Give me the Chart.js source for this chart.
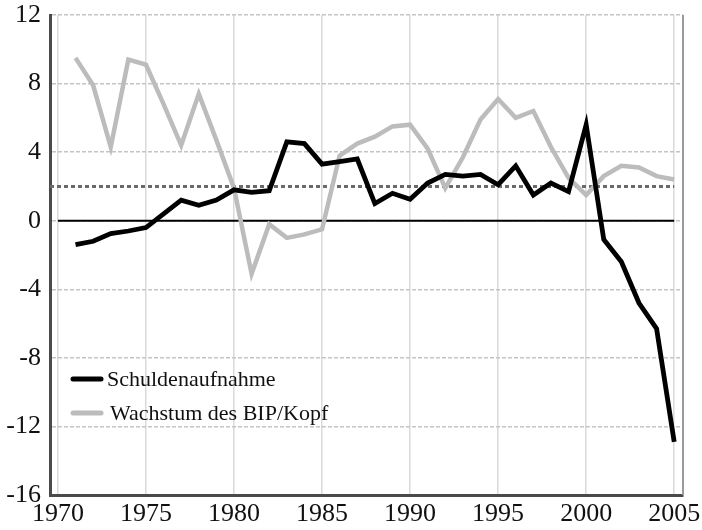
<!DOCTYPE html>
<html>
<head>
<meta charset="utf-8">
<script src="https://cdn.jsdelivr.net/npm/chart.js@4.4.1/dist/chart.umd.min.js"></script>
<style>
  html, body { margin: 0; padding: 0; background: #fff; }
  #wrap { width: 702px; height: 530px; }
</style>
</head>
<body>
<div id="wrap"><canvas id="chart" width="702" height="530"></canvas></div>
<script>
// data
const years = [1971, 1972, 1973, 1974, 1975, 1976, 1977, 1978, 1979, 1980,
    1981, 1982, 1983, 1984, 1985, 1986, 1987, 1988, 1989, 1990,
    1991, 1992, 1993, 1994, 1995, 1996, 1997, 1998, 1999, 2000,
    2001, 2002, 2003, 2004, 2005];
const schulden = [-1.4, -1.2, -0.75, -0.6, -0.4, 0.4, 1.2, 0.9, 1.2, 1.8,
    1.65, 1.75, 4.6, 4.5, 3.3, 3.45, 3.6, 1.0, 1.6, 1.25,
    2.2, 2.7, 2.6, 2.7, 2.1, 3.2, 1.5, 2.2, 1.7, 5.6,
    -1.1, -2.4, -4.8, -6.3, -12.9];
const wachstum = [9.5, 7.9, 4.3, 9.4, 9.1, 6.8, 4.4, 7.4, 4.7, 1.9,
    -3.1, -0.2, -1.0, -0.8, -0.5, 3.8, 4.5, 4.9, 5.5, 5.6,
    4.2, 1.9, 3.7, 5.9, 7.1, 6.0, 6.4, 4.3, 2.5, 1.5,
    2.6, 3.2, 3.1, 2.6, 2.4];
const seriesNames = ['Schuldenaufnahme', 'Wachstum des BIP/Kopf'];
const xTicks = [1970, 1975, 1980, 1985, 1990, 1995, 2000, 2005];
const yTicks = [-16, -12, -8, -4, 0, 4, 8, 12];
const refLevel = 2;          // dotted reference line
const refSpan = [1969.55, 2005];
const zeroSpan = [1970, 2005];

const toPts = (xs, ys) => xs.map((x, i) => ({ x: x, y: ys[i] }));
const flat = (span, v) => span.map(x => ({ x: x, y: v }));

const FONT = '"Liberation Serif", "Times New Roman", serif';

// legend drawn inside the plot, bottom left
const innerLegend = {
    id: 'innerLegend',
    afterDatasetsDraw(chart) {
        const ctx = chart.ctx;
        const a = chart.chartArea;
        const items = chart.data.datasets.filter(d => d.inLegend);
        ctx.save();
        ctx.font = '22px ' + FONT;
        ctx.textBaseline = 'middle';
        items.forEach((d, i) => {
            const y = a.bottom - 116 + i * 34;
            ctx.strokeStyle = d.borderColor;
            ctx.lineWidth = 5;
            ctx.lineCap = 'round';
            ctx.beginPath();
            ctx.moveTo(a.left + 23, y);
            ctx.lineTo(a.left + 51, y);
            ctx.stroke();
            ctx.fillStyle = '#111';
            ctx.fillText(d.label, a.left + 57 + i * 3, y + 1);
        });
        ctx.restore();
    },
    beforeDatasetsDraw(chart) {
        // thin right frame line
        const ctx = chart.ctx;
        const a = chart.chartArea;
        ctx.save();
        ctx.strokeStyle = '#9a9a9a';
        ctx.lineWidth = 2;
        ctx.beginPath();
        ctx.moveTo(a.right, a.top);
        ctx.lineTo(a.right, a.bottom);
        ctx.stroke();
        ctx.restore();
    }
};

const ctx = document.getElementById('chart').getContext('2d');
new Chart(ctx, {
    type: 'line',
    data: {
        datasets: [
            {
                label: seriesNames[0],
                inLegend: true,
                data: toPts(years, schulden),
                borderColor: '#000000',
                borderWidth: 4.8,
                pointRadius: 0,
                tension: 0,
                order: 0
            },
            {
                label: seriesNames[1],
                inLegend: true,
                data: toPts(years, wachstum),
                borderColor: '#bcbcbc',
                borderWidth: 4.5,
                pointRadius: 0,
                tension: 0,
                order: 1
            },
            {
                label: 'ref',
                data: flat(refSpan, refLevel),
                borderColor: '#6a6a6a',
                borderWidth: 3,
                borderDash: [4, 3],
                pointRadius: 0,
                order: 2
            },
            {
                label: 'zero',
                data: flat(zeroSpan, 0),
                borderColor: '#000000',
                borderWidth: 2,
                pointRadius: 0,
                order: 3
            }
        ]
    },
    options: {
        responsive: false,
        animation: false,
        layout: { padding: { top: 15, right: 19, left: 0, bottom: 0 } },
        plugins: {
            legend: { display: false },
            tooltip: { enabled: false }
        },
        scales: {
            x: {
                type: 'linear',
                min: 1969.55,
                max: 2005.5,
                afterBuildTicks: s => { s.ticks = xTicks.map(v => ({ value: v })); },
                afterFit: s => { s.height = 35; s.paddingLeft = 0; s.paddingRight = 0; },
                ticks: {
                    color: '#111',
                    font: { family: FONT, size: 26 },
                    padding: 4,
                    maxRotation: 0,
                    autoSkip: false,
                    callback: v => String(v)
                },
                grid: {
                    color: '#dadada',
                    lineWidth: 1.5,
                    drawTicks: false
                },
                border: { display: true, color: '#4a4a4a', width: 3 }
            },
            y: {
                min: -16,
                max: 12,
                afterBuildTicks: s => { s.ticks = yTicks.map(v => ({ value: v })); },
                afterFit: s => { s.width = 50; s.paddingTop = 0; s.paddingBottom = 0; },
                ticks: {
                    color: '#111',
                    font: { family: FONT, size: 26 },
                    padding: 9,
                    autoSkip: false,
                    callback: v => String(v)
                },
                grid: {
                    color: '#c4c4c4',
                    lineWidth: 1.5,
                    drawTicks: false
                },
                border: { display: true, color: '#4a4a4a', width: 3, dash: [4, 2] }
            }
        }
    },
    plugins: [innerLegend]
});
</script>
</body>
</html>
